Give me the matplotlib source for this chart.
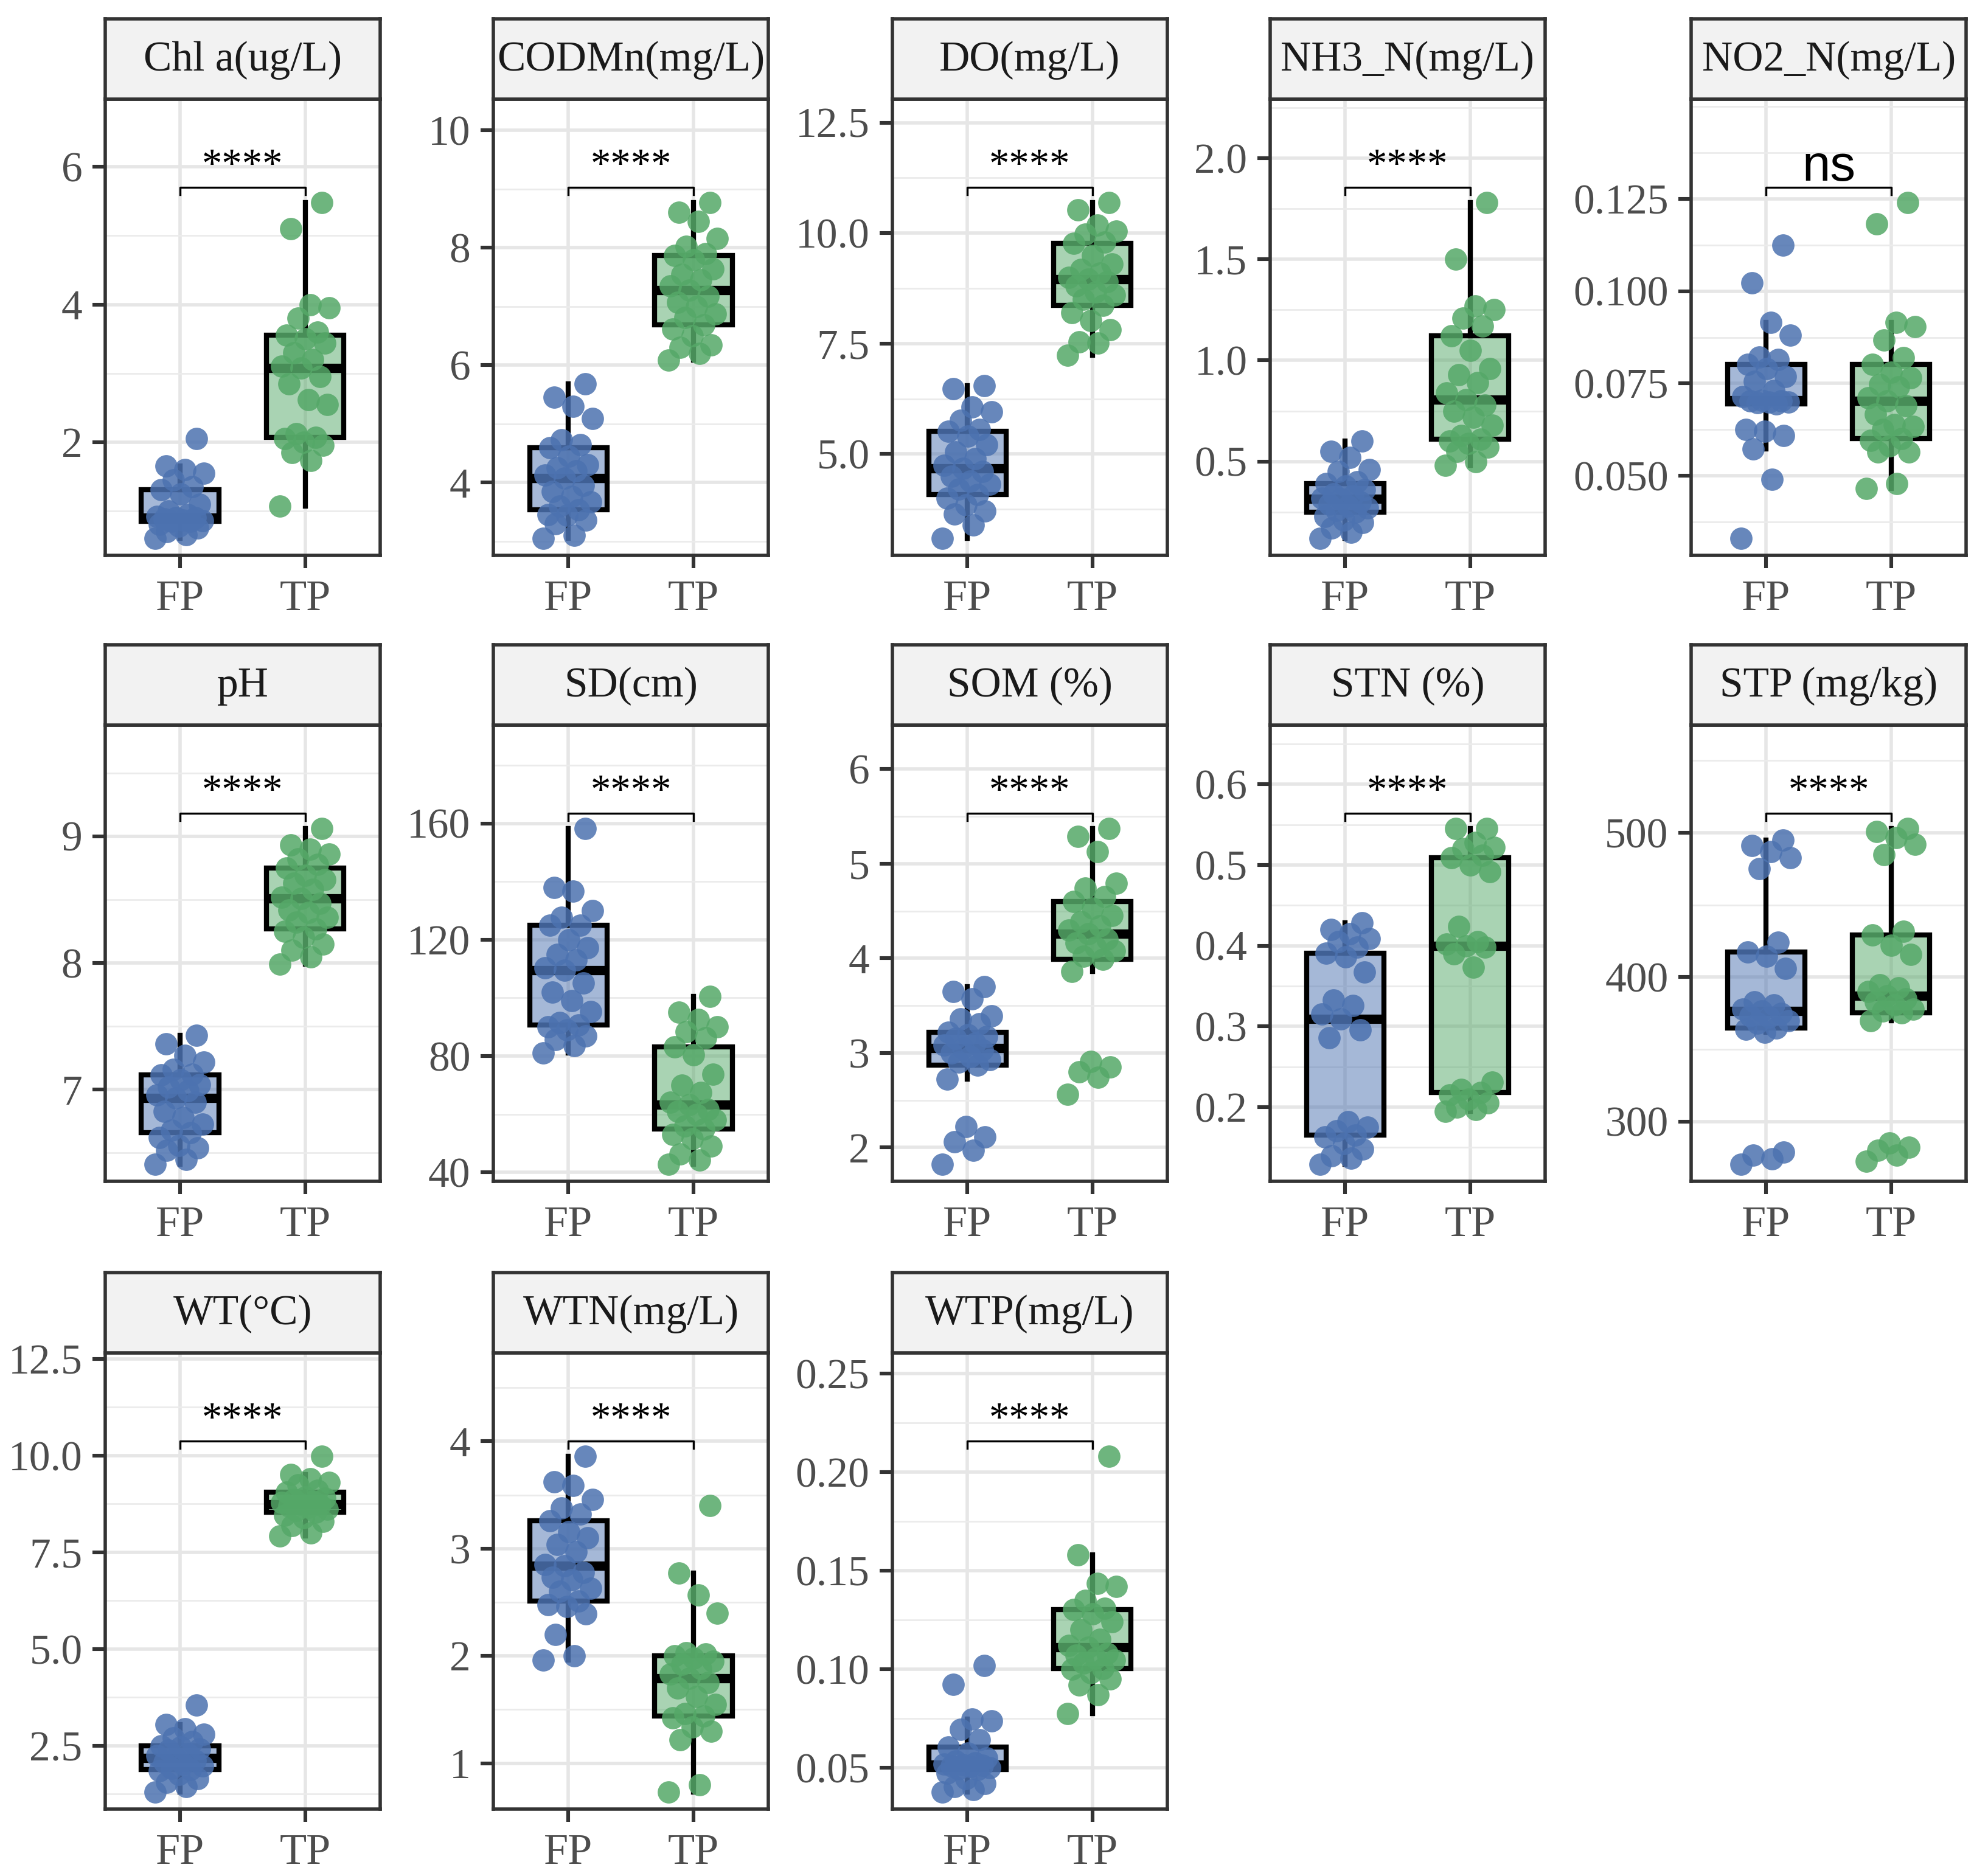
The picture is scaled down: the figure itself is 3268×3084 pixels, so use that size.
import numpy as np
import matplotlib.pyplot as plt
from matplotlib.colors import to_rgb
from matplotlib.ticker import MultipleLocator, NullLocator
from matplotlib.transforms import blended_transform_factory

plt.rcParams["font.family"] = ["Liberation Serif", "DejaVu Serif"]

groups = ["FP", "TP"]

# values, one list per panel and group
chl_fp = [0.6, 0.65, 0.7, 0.75, 0.78, 0.8, 0.85, 0.85, 0.86, 0.87, 0.88, 0.9, 0.9,
          0.92, 0.95, 1.0, 1.1, 1.25, 1.31, 1.35, 1.45, 1.55, 1.6, 1.65, 2.05]
chl_tp = [1.07, 1.73, 1.85, 1.95, 2.0, 2.05, 2.07, 2.12, 2.55, 2.62, 2.85, 2.95, 3.08,
          3.1, 3.2, 3.3, 3.44, 3.5, 3.55, 3.6, 3.8, 3.95, 4.0, 5.1, 5.48]
cod_fp = [3.05, 3.1, 3.3, 3.36, 3.44, 3.46, 3.54, 3.6, 3.67, 3.77, 3.85, 3.95, 4.08,
          4.13, 4.2, 4.25, 4.31, 4.45, 4.6, 4.65, 4.73, 5.09, 5.3, 5.45, 5.68]
cod_tp = [6.09, 6.2, 6.3, 6.35, 6.5, 6.62, 6.69, 6.81, 6.87, 7.0, 7.07, 7.18, 7.28,
          7.35, 7.45, 7.55, 7.64, 7.8, 7.87, 7.9, 8.03, 8.16, 8.45, 8.6, 8.77]
do_fp = [3.09, 3.4, 3.64, 3.71, 3.85, 4.0, 4.08, 4.2, 4.32, 4.39, 4.5, 4.6, 4.68,
         4.75, 4.9, 5.05, 5.21, 5.4, 5.52, 5.55, 5.76, 5.95, 6.07, 6.48, 6.55]
do_tp = [7.23, 7.51, 7.54, 7.82, 8.02, 8.2, 8.36, 8.5, 8.6, 8.67, 8.8, 8.9, 8.95,
         9.0, 9.1, 9.18, 9.3, 9.49, 9.77, 9.8, 9.97, 10.05, 10.18, 10.52, 10.69]
nh3_fp = [0.12, 0.15, 0.17, 0.2, 0.21, 0.23, 0.249, 0.26, 0.27, 0.28, 0.29, 0.3, 0.317,
          0.32, 0.33, 0.34, 0.36, 0.38, 0.392, 0.40, 0.45, 0.46, 0.52, 0.55, 0.6]
nh3_tp = [0.48, 0.5, 0.55, 0.57, 0.59, 0.6, 0.61, 0.63, 0.68, 0.72, 0.75, 0.78, 0.806,
          0.84, 0.89, 0.93, 0.96, 1.05, 1.122, 1.17, 1.21, 1.25, 1.27, 1.5, 1.78]
no2_fp = [0.033, 0.049, 0.0572, 0.0609, 0.0621, 0.0625, 0.0695, 0.0698, 0.07, 0.07,
          0.0702, 0.0703, 0.0705, 0.0715, 0.073, 0.0755, 0.0769, 0.079, 0.0802, 0.0815,
          0.0822, 0.088, 0.0916, 0.1023, 0.1125]
no2_tp = [0.0466, 0.0478, 0.0564, 0.0564, 0.058, 0.0595, 0.0601, 0.0625, 0.0634, 0.0638,
          0.0666, 0.069, 0.0703, 0.0711, 0.074, 0.0748, 0.0765, 0.0781, 0.0802, 0.082,
          0.0867, 0.0904, 0.0916, 0.1183, 0.124]
ph_fp = [6.41, 6.45, 6.52, 6.54, 6.56, 6.62, 6.66, 6.68, 6.73, 6.78, 6.83, 6.9, 6.935,
         6.96, 6.99, 7.02, 7.04, 7.08, 7.115, 7.12, 7.16, 7.22, 7.27, 7.36, 7.43]
ph_tp = [7.99, 8.05, 8.1, 8.15, 8.2, 8.25, 8.27, 8.32, 8.36, 8.4, 8.42, 8.47, 8.51,
         8.52, 8.58, 8.63, 8.66, 8.69, 8.75, 8.78, 8.82, 8.86, 8.9, 8.93, 9.06]
sd_fp = [81, 83.5, 85.7, 87, 88.9, 90, 90.7, 91.5, 95.2, 99, 102, 105.2, 109.4,
         110.4, 113, 115, 117.2, 119.9, 124.9, 125, 127.8, 129.9, 136.7, 138, 158.2]
sd_tp = [42.7, 44.2, 46.3, 49, 51.6, 53, 54.8, 56, 58, 60, 61, 61.6, 63.2,
         64, 67.4, 70, 73.7, 80.5, 83.1, 86.3, 88.4, 90, 92.6, 95, 100.4]
som_fp = [1.82, 1.97, 2.06, 2.11, 2.22, 2.72, 2.87, 2.9, 2.93, 2.96, 3.0, 3.03, 3.05,
          3.08, 3.1, 3.15, 3.17, 3.19, 3.22, 3.31, 3.36, 3.39, 3.57, 3.65, 3.7]
som_tp = [2.56, 2.74, 2.8, 2.85, 2.91, 3.86, 3.99, 4.02, 4.08, 4.12, 4.16, 4.2, 4.26,
          4.3, 4.34, 4.39, 4.45, 4.53, 4.6, 4.65, 4.74, 4.79, 5.13, 5.29, 5.37]
stn_fp = [0.129, 0.137, 0.14, 0.148, 0.155, 0.163, 0.165, 0.171, 0.175, 0.182, 0.286,
          0.296, 0.309, 0.315, 0.326, 0.333, 0.367, 0.386, 0.391, 0.398, 0.405, 0.409,
          0.415, 0.42, 0.428]
stn_tp = [0.195, 0.197, 0.2, 0.205, 0.21, 0.215, 0.218, 0.222, 0.231, 0.373, 0.39,
          0.398, 0.4, 0.402, 0.405, 0.424, 0.492, 0.5, 0.509, 0.512, 0.52, 0.522,
          0.528, 0.545, 0.545]
stp_fp = [270.3, 274, 276.7, 278.8, 361.6, 363.7, 364.8, 368, 370, 372.2, 373.3, 375,
          376.4, 378, 380.7, 382.8, 406.2, 414.6, 417.2, 424.2, 475.2, 482.6, 486.8,
          491, 495]
stp_tp = [272.4, 276.6, 280, 282, 285, 370, 375.4, 376.4, 378, 380.7, 383, 385, 387,
          390, 392.4, 394.5, 415.7, 422, 429.1, 431.6, 484.7, 492, 496.4, 500.6, 502.8]
wt_fp = [1.3, 1.45, 1.55, 1.65, 1.76, 1.85, 1.88, 1.92, 1.98, 2.03, 2.07, 2.12, 2.19,
         2.24, 2.3, 2.38, 2.42, 2.46, 2.5, 2.6, 2.7, 2.8, 2.93, 3.05, 3.55]
wt_tp = [7.92, 8.0, 8.19, 8.3, 8.4, 8.46, 8.54, 8.58, 8.62, 8.66, 8.7, 8.72, 8.74,
         8.78, 8.82, 8.86, 8.9, 8.93, 9.05, 9.1, 9.24, 9.3, 9.4, 9.51, 9.98]
wtn_fp = [1.96, 2.0, 2.2, 2.39, 2.46, 2.48, 2.51, 2.6, 2.63, 2.71, 2.73, 2.78, 2.84,
          2.85, 2.97, 3.04, 3.1, 3.16, 3.26, 3.32, 3.38, 3.46, 3.59, 3.62, 3.86]
wtn_tp = [0.73, 0.8, 1.22, 1.3, 1.34, 1.42, 1.44, 1.46, 1.55, 1.62, 1.7, 1.75, 1.79,
          1.83, 1.88, 1.92, 1.95, 1.98, 2.0, 2.02, 2.03, 2.4, 2.57, 2.77, 3.4]
wtp_fp = [0.0376, 0.039, 0.0403, 0.042, 0.0445, 0.0473, 0.0491, 0.0495, 0.05, 0.0505,
          0.051, 0.0512, 0.0515, 0.0518, 0.0525, 0.0535, 0.055, 0.0575, 0.0606, 0.0641,
          0.0694, 0.0739, 0.0747, 0.0924, 0.102]
wtp_tp = [0.0774, 0.0871, 0.092, 0.095, 0.098, 0.1, 0.1004, 0.103, 0.1045, 0.1056,
          0.107, 0.108, 0.111, 0.112, 0.115, 0.12, 0.1242, 0.128, 0.1304, 0.131, 0.135,
          0.142, 0.1436, 0.158, 0.208]

titles = ["Chl a(ug/L)", "CODMn(mg/L)", "DO(mg/L)", "NH3_N(mg/L)", "NO2_N(mg/L)",
          "pH", "SD(cm)", "SOM (%)", "STN (%)", "STP (mg/kg)",
          "WT(°C)", "WTN(mg/L)", "WTP(mg/L)"]
fp_data = [chl_fp, cod_fp, do_fp, nh3_fp, no2_fp, ph_fp, sd_fp, som_fp, stn_fp,
           stp_fp, wt_fp, wtn_fp, wtp_fp]
tp_data = [chl_tp, cod_tp, do_tp, nh3_tp, no2_tp, ph_tp, sd_tp, som_tp, stn_tp,
           stp_tp, wt_tp, wtn_tp, wtp_tp]
signif = ["****", "****", "****", "****", "ns", "****", "****", "****", "****",
          "****", "****", "****", "****"]
y_ticks = [
    ["2", "4", "6"],
    ["4", "6", "8", "10"],
    ["5.0", "7.5", "10.0", "12.5"],
    ["0.5", "1.0", "1.5", "2.0"],
    ["0.050", "0.075", "0.100", "0.125"],
    ["7", "8", "9"],
    ["40", "80", "120", "160"],
    ["2", "3", "4", "5", "6"],
    ["0.2", "0.3", "0.4", "0.5", "0.6"],
    ["300", "400", "500"],
    ["2.5", "5.0", "7.5", "10.0", "12.5"],
    ["1", "2", "3", "4"],
    ["0.05", "0.10", "0.15", "0.20", "0.25"],
]

blue = "#4C72B0"
green = "#55A868"
border = "#333333"

fig = plt.figure(figsize=(16.34, 15.42), dpi=200)

lefts = [0.0529, 0.2482, 0.4489, 0.6389, 0.8507]
bottoms = [0.7040, 0.3703, 0.0357]
w, h, sh = 0.1383, 0.2432, 0.0428


def jitter(n, width=0.2):
    # evenly spread horizontal offsets, no randomness
    return np.array([((i * 0.6180339887) % 1.0 - 0.5) * 2 * width for i in range(n)])


for k, title in enumerate(titles):
    r, c = divmod(k, 5)
    ax = fig.add_axes([lefts[c], bottoms[r], w, h])
    fp, tp = fp_data[k], tp_data[k]

    bp = ax.boxplot([fp, tp], positions=[1, 2], widths=0.62, patch_artist=True,
                    showfliers=False, showcaps=False, whis=1.5,
                    boxprops=dict(edgecolor="black", linewidth=3.0),
                    whiskerprops=dict(color="black", linewidth=3.0),
                    medianprops=dict(color="black", linewidth=5.5, solid_capstyle="butt"))
    for patch, col in zip(bp["boxes"], [blue, green]):
        patch.set_facecolor((*to_rgb(col), 0.5))

    for pos, vals, col in [(1, fp, blue), (2, tp, green)]:
        xs = pos + jitter(len(vals))
        ax.scatter(xs, vals, s=175, color=col, alpha=0.85, linewidths=0, zorder=3)

    lo = min(min(fp), min(tp))
    hi = max(max(fp), max(tp))
    total = (hi - lo) / (0.773 - 0.037)
    ymin = lo - 0.037 * total
    ax.set_ylim(ymin, ymin + total)
    ax.set_xlim(0.4, 2.6)

    labels = y_ticks[k]
    ticks = [float(t) for t in labels]
    ax.set_yticks(ticks, labels)
    ax.yaxis.set_minor_locator(MultipleLocator((ticks[1] - ticks[0]) / 2))
    ax.set_xticks([1, 2], groups)
    ax.xaxis.set_minor_locator(NullLocator())

    ax.set_axisbelow(True)
    ax.grid(which="major", color="#E6E6E6", lw=2.0)
    ax.grid(which="minor", axis="y", color="#EBEBEB", lw=1.0)

    tr = blended_transform_factory(ax.transData, ax.transAxes)
    yb, tip = 0.807, 0.016
    ax.plot([1, 1, 2, 2], [yb - tip, yb, yb, yb - tip], color="black", lw=1.2,
            transform=tr, clip_on=False, zorder=4)
    if signif[k] == "ns":
        ax.text(1.5, yb + 0.014, "ns", transform=tr, ha="center", va="baseline",
                fontsize=30, family="Liberation Sans", color="black")
    else:
        ax.text(1.5, yb + 0.024, signif[k], transform=tr, ha="center", va="baseline",
                fontsize=24, color="black")

    for sp in ax.spines.values():
        sp.set_color(border)
        sp.set_linewidth(2.0)
    ax.tick_params(axis="both", which="major", length=7.5, width=2.2, color=border,
                   labelcolor="#4D4D4D")
    ax.tick_params(axis="y", which="major", labelsize=25, pad=6)
    ax.tick_params(axis="x", which="major", labelsize=26, pad=7)
    ax.tick_params(which="minor", length=0)

    sax = fig.add_axes([lefts[c], bottoms[r] + h, w, sh])
    sax.set_facecolor("#F2F2F2")
    sax.set_xticks([])
    sax.set_yticks([])
    for sp in sax.spines.values():
        sp.set_color(border)
        sp.set_linewidth(2.0)
    sax.text(0.5, 0.48, title, transform=sax.transAxes, ha="center", va="center",
             fontsize=25, color="#1A1A1A")

fig.savefig("out.png", dpi=200, facecolor="white")
